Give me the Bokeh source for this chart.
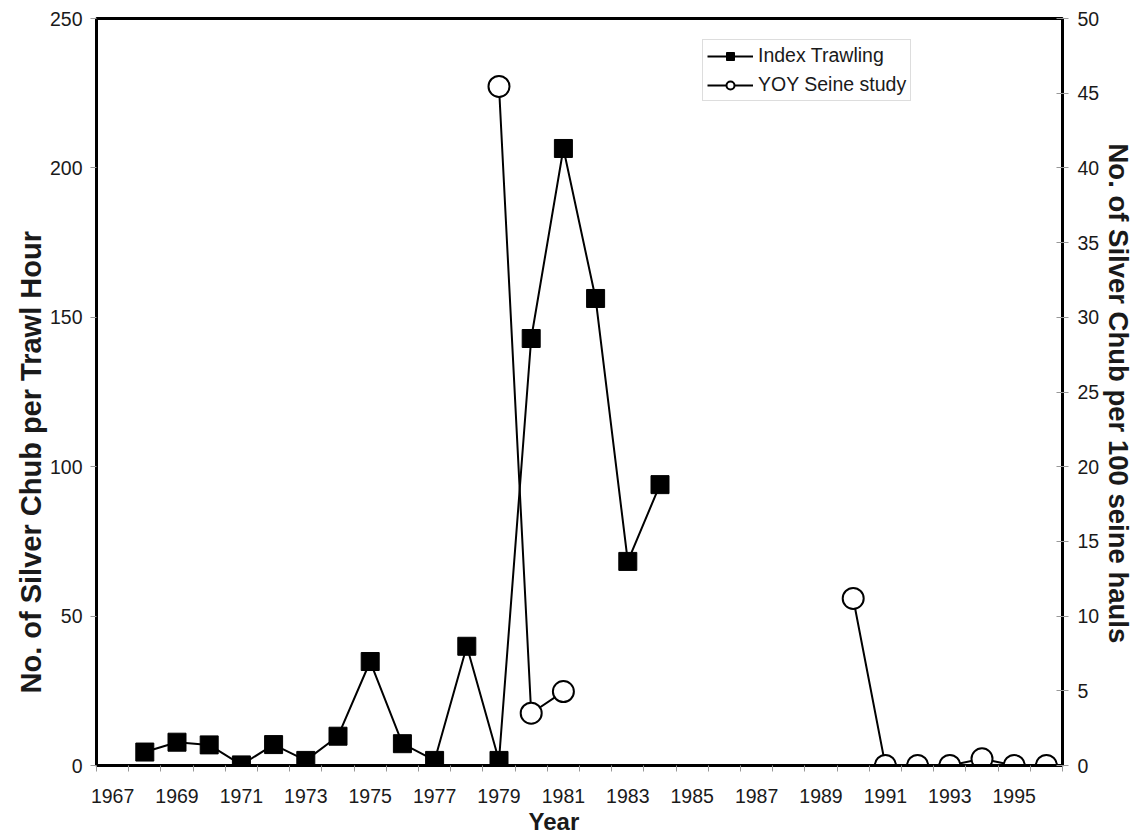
from bokeh.plotting import figure
from bokeh.models import Range1d, LinearAxis, FixedTicker, Legend, LegendItem, ColumnDataSource, Title
from bokeh.embed import file_html
from bokeh.resources import INLINE

# Index Trawling (left axis): catch per trawl hour
trawl_years = [1968, 1969, 1970, 1971, 1972, 1973, 1974, 1975, 1976, 1977, 1978, 1979, 1980, 1981, 1982, 1983, 1984]
trawl_values = [4.5, 7.8, 6.9, 0.2, 7.0, 1.7, 9.8, 34.8, 7.3, 1.7, 39.9, 1.7, 142.9, 206.5, 156.3, 68.3, 94.0]

# YOY Seine study (right axis): per 100 seine hauls (NaN = no data, line break)
seine_years = [1979, 1980, 1981, 1982, 1990, 1991, 1992, 1993, 1994, 1995, 1996]
seine_values = [45.45, 3.5, 4.95, float("nan"), 11.18, 0.0, 0.0, 0.0, 0.45, 0.0, 0.0]

x_tick_labels = [1967, 1969, 1971, 1973, 1975, 1977, 1979, 1981, 1983, 1985, 1987, 1989, 1991, 1993, 1995]
left_ticks = [0, 50, 100, 150, 200, 250]
right_ticks = [0, 5, 10, 15, 20, 25, 30, 35, 40, 45, 50]

FONT = "Liberation Sans"
TICK_FS = "19.5px"
TXT = "#1a1a1a"

p = figure(width=1140, height=837, output_backend="svg", toolbar_location=None,
           x_range=Range1d(1966.5, 1996.5), y_range=Range1d(0, 250),
           min_border_left=96, min_border_right=78, min_border_top=18, min_border_bottom=72)
p.extra_y_ranges = {"right": Range1d(0, 50)}
p.grid.visible = False
p.outline_line_color = "black"
p.outline_line_width = 3
p.background_fill_color = "white"
p.border_fill_color = "white"

# x axis
p.xaxis.ticker = FixedTicker(ticks=x_tick_labels, minor_ticks=[y + 0.5 for y in range(1966, 1997)])
p.xaxis.major_tick_line_color = None
p.xaxis.major_tick_out = 0
p.xaxis.major_tick_in = 0
p.xaxis.minor_tick_line_color = "#999999"
p.xaxis.minor_tick_out = 6
p.xaxis.minor_tick_in = 0
p.xaxis.axis_line_color = "black"
p.xaxis.axis_line_width = 3
p.xaxis.major_label_text_font = FONT
p.xaxis.major_label_text_font_size = TICK_FS
p.xaxis.major_label_text_color = TXT
p.xaxis.major_label_standoff = 17

# left axis
p.yaxis.ticker = FixedTicker(ticks=left_ticks)
p.yaxis.minor_tick_line_color = None
p.yaxis.major_tick_line_color = "#999999"
p.yaxis.major_tick_out = 6
p.yaxis.major_tick_in = 0
p.yaxis.axis_line_color = "black"
p.yaxis.axis_line_width = 3
p.yaxis.major_label_text_font = FONT
p.yaxis.major_label_text_font_size = TICK_FS
p.yaxis.major_label_text_color = TXT
p.yaxis.major_label_standoff = 8

# right axis
ra = LinearAxis(y_range_name="right", ticker=FixedTicker(ticks=right_ticks))
ra.minor_tick_line_color = None
ra.major_tick_line_color = "#999999"
ra.major_tick_out = 6
ra.major_tick_in = 6
ra.axis_line_color = "black"
ra.axis_line_width = 3
ra.major_label_text_font = FONT
ra.major_label_text_font_size = TICK_FS
ra.major_label_text_color = TXT
ra.major_label_standoff = 9
p.add_layout(ra, "right")

# axis titles
t_left = Title(text="No. of Silver Chub per Trawl Hour", align="left", offset=72,
               text_font=FONT, text_font_style="bold", text_font_size="29px", text_color=TXT, standoff=0)
p.add_layout(t_left, "left")
t_right = Title(text="No. of Silver Chub per 100 seine hauls", align="left", offset=125,
                text_font=FONT, text_font_style="bold", text_font_size="27.5px", text_color=TXT, standoff=0)
p.add_layout(t_right, "right")
t_bot = Title(text="Year", align="left", offset=432,
              text_font=FONT, text_font_style="bold", text_font_size="24px", text_color=TXT, standoff=0)
p.add_layout(t_bot, "below")

ts = ColumnDataSource(dict(x=trawl_years, y=trawl_values))
ss = ColumnDataSource(dict(x=seine_years, y=seine_values))

tl = p.line("x", "y", source=ts, line_color="black", line_width=2)
tm = p.scatter("x", "y", source=ts, marker="square", size=18, fill_color="black", line_color="black")
sl = p.line("x", "y", source=ss, line_color="black", line_width=2, y_range_name="right")
sm = p.scatter("x", "y", source=ss, marker="circle", size=21, fill_color="white", line_color="black",
               line_width=2, y_range_name="right")

legend = Legend(items=[LegendItem(label="Index Trawling", renderers=[tl, tm]),
                       LegendItem(label="YOY Seine study", renderers=[sl, sm])],
                location=(606, 664))
legend.label_text_font = FONT
legend.label_text_font_size = "19.5px"
legend.label_text_color = TXT
legend.border_line_color = "#bbbbbb"
legend.border_line_width = 1
legend.glyph_width = 46
legend.glyph_height = 20
legend.label_height = 20
legend.spacing = 6
legend.padding = 4
legend.margin = 0
legend.label_standoff = 5
legend.background_fill_alpha = 1
p.add_layout(legend, "center")

open("out.html", "w").write(file_html(p, INLINE))
